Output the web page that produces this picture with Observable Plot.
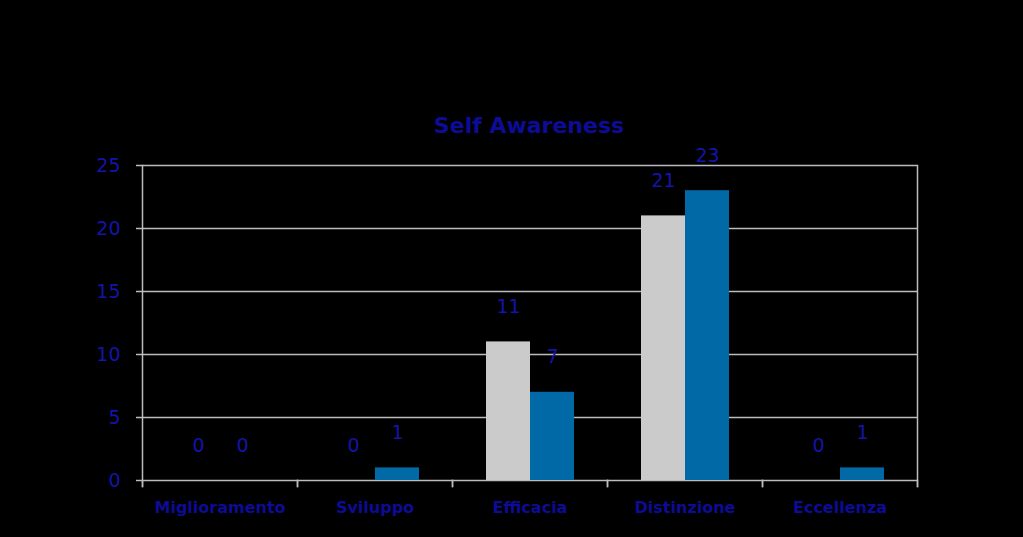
<!DOCTYPE html>
<html>
<head>
<meta charset="utf-8">
<script src="https://cdn.jsdelivr.net/npm/d3@7"></script>
<script src="https://cdn.jsdelivr.net/npm/@observablehq/plot@0.6"></script>
<style>
  html, body { margin: 0; padding: 0; background: #000; }
  #wrap { position: relative; width: 1023px; height: 537px; background: #000; overflow: hidden; }
  #title { position: absolute; left: 140px; width: 778px; top: 113px; text-align: center;
           font-family: "DejaVu Sans", sans-serif; font-weight: bold; font-size: 22px; color: #0c0c96; }
  svg { display: block; }
</style>
</head>
<body>
<div id="wrap">
  <div id="chart"></div>
  <div id="title">Self Awareness</div>
</div>
<script>
const categories = ["Miglioramento", "Sviluppo", "Efficacia", "Distinzione", "Eccellenza"];
const seriesNames = ["Serie 1", "Serie 2"];
const serie1 = [0, 0, 11, 21, 0];
const serie2 = [0, 1, 7, 23, 1];
const yTicks = [0, 5, 10, 15, 20, 25];

const data = categories.flatMap((c, i) => [
  {category: c, series: seriesNames[0], value: serie1[i]},
  {category: c, series: seriesNames[1], value: serie2[i]}
]);

const gridColor = "#bdbdbd";
const labelBlue = "#1414aa";

const chart = Plot.plot({
  width: 1023,
  height: 537,
  marginLeft: 140,
  marginRight: 105,
  marginTop: 165,
  marginBottom: 57,
  style: {background: "#000", fontFamily: "DejaVu Sans, sans-serif"},
  fx: {domain: categories, padding: 0, label: null},
  x: {domain: seriesNames, paddingInner: 0, paddingOuter: 0.73, axis: null},
  y: {domain: [0, 25], axis: null},
  color: {domain: seriesNames, range: ["#cbcbcb", "#0069a6"]},
  marks: [
    Plot.ruleY(yTicks, {stroke: gridColor, strokeWidth: 1.5}),
    Plot.barY(data, {fx: "category", x: "series", y: "value", fill: "series"}),
    Plot.text(data, {fx: "category", x: "series", y: "value", text: d => String(d.value),
      dy: -35, fill: labelBlue, fontSize: 19}),
    Plot.axisY({ticks: yTicks, anchor: "left", tickSize: 6, tickPadding: 16, stroke: gridColor,
      fill: labelBlue, fontSize: 19, label: null, strokeWidth: 1.5}),
    Plot.frame({anchor: "left", facetAnchor: "left", stroke: gridColor, strokeWidth: 1.5, insetBottom: -6}),
    Plot.frame({anchor: "right", facetAnchor: "right", stroke: gridColor, strokeWidth: 1.5, insetBottom: -6}),
    Plot.frame({anchor: "left", stroke: gridColor, strokeWidth: 1.5, insetTop: 315, insetBottom: -6}),
    Plot.frame({anchor: "right", stroke: gridColor, strokeWidth: 1.5, insetTop: 315, insetBottom: -6}),
    Plot.axisFx({anchor: "bottom", tickSize: 0, tickPadding: 21, fill: "#0c0c96",
      fontSize: 16, fontWeight: "bold", label: null})
  ]
});
document.getElementById("chart").appendChild(chart);
</script>
</body>
</html>
